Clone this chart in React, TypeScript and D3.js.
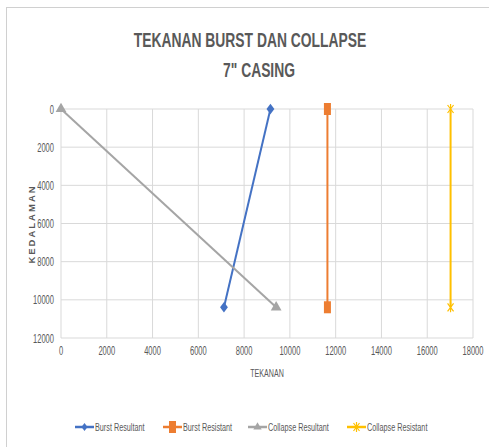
import * as d3 from 'd3';
import {useEffect, useRef} from 'react';

const width = 489;
const height = 447;

const xTicks = [0, 2000, 4000, 6000, 8000, 10000, 12000, 14000, 16000, 18000];
const yTicks = [0, 2000, 4000, 6000, 8000, 10000, 12000];

const burstResultant = [
  {x: 9150, y: 0},
  {x: 7120, y: 10390},
];
const burstResistant = [
  {x: 11640, y: 0},
  {x: 11640, y: 10390},
];
const collapseResultant = [
  {x: 0, y: 0},
  {x: 9400, y: 10390},
];
const collapseResistant = [
  {x: 17020, y: 0},
  {x: 17020, y: 10390},
];

const seriesNames = ['Burst Resultant', 'Burst Resistant', 'Collapse Resultant', 'Collapse Resistant'];
const colors = ['#4472C4', '#ED7D31', '#A5A5A5', '#FFC000'];
const markers = ['diamond', 'square', 'triangle', 'star'];

const font = "'Liberation Sans', Arial, sans-serif";

function drawMarker(g, type, x, y, color, size) {
  if (type === 'diamond') {
    g.append('path')
      .attr('d', d3.symbol(d3.symbolDiamond2, size * 7)())
      .attr('transform', `translate(${x},${y}) scale(0.75,1)`)
      .attr('fill', color);
  } else if (type === 'square') {
    g.append('rect')
      .attr('x', x - 3.5).attr('y', y - 6).attr('width', 7).attr('height', 12)
      .attr('fill', color);
  } else if (type === 'triangle') {
    g.append('path')
      .attr('d', d3.symbol(d3.symbolTriangle, size * 5)())
      .attr('transform', `translate(${x},${y})`)
      .attr('fill', color);
  } else {
    g.append('path')
      .attr('d', `M${x - 3},${y - 4}L${x + 3},${y + 4}M${x + 3},${y - 4}L${x - 3},${y + 4}M${x},${y - 5}L${x},${y + 5}`)
      .attr('stroke', color)
      .attr('stroke-width', 1.2)
      .attr('fill', 'none');
  }
}

// narrow text: the source uses a condensed face, so squeeze horizontally
function label(g, px, py, str, size, anchor, sx = 0.68) {
  return g.append('text')
    .attr('transform', `translate(${px},${py}) scale(${sx},1)`)
    .attr('text-anchor', anchor)
    .attr('font-family', font)
    .attr('font-size', size)
    .attr('fill', '#595959')
    .text(str);
}

function App() {
  const ref = useRef();

  useEffect(() => {
    document.body.style.margin = '0';
    const svg = d3.select(ref.current)
      .append('svg')
      .attr('width', width)
      .attr('height', height)
      .style('display', 'block')
      .style('background', '#fff');

    svg.append('rect')
      .attr('x', 6.5).attr('y', 7.5)
      .attr('width', 600).attr('height', 600)
      .attr('fill', 'none')
      .attr('stroke', '#d0d0d0');

    const x = d3.scaleLinear().domain([0, 18000]).range([61, 473]);
    const y = d3.scaleLinear().domain([0, 12000]).range([109, 338]);

    // titles
    label(svg, 250, 47, 'TEKANAN  BURST DAN COLLAPSE', 21, 'middle', 0.66).attr('font-weight', 'bold');
    label(svg, 259, 77, '7" CASING', 21, 'middle', 0.66).attr('font-weight', 'bold');

    // grid
    const grid = svg.append('g');
    grid.selectAll('.vg').data(xTicks).join('line')
      .attr('x1', d => x(d)).attr('x2', d => x(d))
      .attr('y1', y(0)).attr('y2', y(12000))
      .attr('stroke', '#d9d9d9');
    grid.selectAll('.hg').data(yTicks).join('line')
      .attr('x1', x(0)).attr('x2', x(18000))
      .attr('y1', d => y(d)).attr('y2', d => y(d))
      .attr('stroke', '#d9d9d9');

    const yl = svg.append('g');
    yTicks.forEach(t => label(yl, 54, y(t) + 4.5, t, 13, 'end', 0.58));

    const xl = svg.append('g');
    xTicks.forEach(t => label(xl, x(t), 355, t, 13, 'middle', 0.58));

    label(svg, 267, 377, 'TEKANAN', 11.5, 'middle', 0.62);

    svg.append('text')
      .attr('transform', 'translate(35,224) rotate(-90)')
      .attr('text-anchor', 'middle')
      .attr('font-family', font)
      .attr('font-size', 9.5)
      .attr('font-weight', 'bold')
      .attr('letter-spacing', 2)
      .attr('fill', '#595959')
      .text('KEDALAMAN');

    // series
    const line = d3.line().x(d => x(d.x)).y(d => y(d.y));
    const all = [burstResultant, burstResistant, collapseResultant, collapseResistant];
    all.forEach((data, i) => {
      const g = svg.append('g');
      g.append('path')
        .datum(data)
        .attr('fill', 'none')
        .attr('stroke', colors[i])
        .attr('stroke-width', 2)
        .attr('d', line);
      data.forEach(p => drawMarker(g, markers[i], x(p.x), y(p.y), colors[i], 10));
    });

    // legend
    const legendX = [75, 163, 248, 347];
    const lg = svg.append('g');
    seriesNames.forEach((name, i) => {
      const lx = legendX[i];
      lg.append('line')
        .attr('x1', lx).attr('x2', lx + 19)
        .attr('y1', 427).attr('y2', 427)
        .attr('stroke', colors[i])
        .attr('stroke-width', 2.5);
      drawMarker(lg, markers[i], lx + 9.5, 427, colors[i], 6);
      label(lg, lx + 20, 431, name, 11.5, 'start', 0.63);
    });

    return () => svg.remove();
  }, []);

  return <div ref={ref}></div>;
}

export default App;
